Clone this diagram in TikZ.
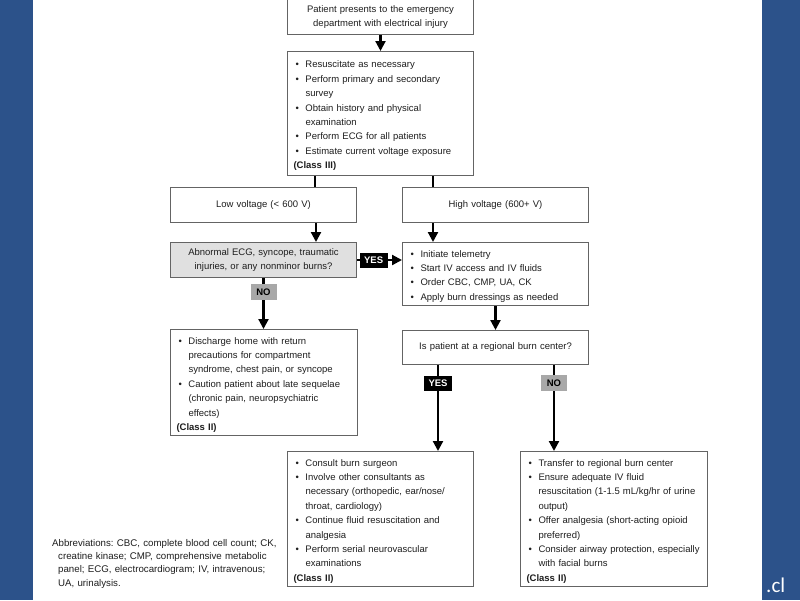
\documentclass[tikz,border=0pt]{standalone}
\usepackage{fontspec}
\setmainfont{Liberation Sans}
\newfontfamily\clfont{Carlito}
\usetikzlibrary{arrows.meta,calc}
\definecolor{bgblue}{RGB}{44,82,138}
\definecolor{boxgray}{RGB}{100,100,100}
\definecolor{abnfill}{RGB}{224,224,224}
\definecolor{nofill}{RGB}{168,168,168}
\definecolor{txtgray}{RGB}{30,30,30}
\newcommand{\bit}[1]{\par\noindent\hangindent=13pt\hangafter=1\makebox[13pt][l]{\hspace{3pt}\textbullet}#1}
\newcommand{\clsline}[1]{\par\noindent\hspace{1pt}\textbf{#1}\par\vspace*{3pt}}
\newcommand{\bitend}{\par\vspace*{3pt}}
\begin{document}
\frenchspacing
\begin{tikzpicture}[x=1pt,y=-1pt,
  flow/.style={draw=boxgray,line width=1pt,fill=white,inner xsep=5pt,inner ysep=0pt,
    text=txtgray,font=\fontsize{9.5}{14.4}\selectfont,anchor=north west},
  conn/.style={line width=2.2pt,-{Triangle[length=10pt,width=10pt]}},
  plainconn/.style={line width=2.2pt},
  yeslab/.style={fill=black,text=white,font=\bfseries\fontsize{9.5}{10}\selectfont,
    inner sep=0pt,minimum width=28pt,minimum height=15pt},
  nolab/.style={fill=nofill,text=black,font=\bfseries\fontsize{9.5}{10}\selectfont,
    inner sep=0pt,minimum width=26pt,minimum height=16pt}]
\useasboundingbox (0,0) rectangle (800,600);
\fill[bgblue] (0,0) rectangle (800,600);
\fill[white] (33,0) rectangle (762,600);

\node[flow,align=center,text width=176pt,minimum width=186pt,minimum height=35pt] (b1) at (287,-1)
  {Patient presents to the emergency\\department with electrical injury};

\node[flow,align=left,text width=176pt,minimum width=186pt,minimum height=124pt] (b2) at (287,51)
  {\bit{Resuscitate as necessary}\bit{Perform primary and secondary\newline survey}%
   \bit{Obtain history and physical\newline examination}\bit{Perform ECG for all patients}%
   \bit{Estimate current voltage exposure}\clsline{(Class III)}};

\node[flow,align=center,text width=176pt,minimum width=186pt,minimum height=35pt] (low) at (170,187)
  {Low voltage (< 600 V)};
\node[flow,align=center,text width=176pt,minimum width=186pt,minimum height=35pt] (high) at (402,187)
  {High voltage (600+ V)};

\node[flow,fill=abnfill,align=center,text width=176pt,minimum width=186pt,minimum height=35pt] (abn) at (170,242)
  {Abnormal ECG, syncope, traumatic\\injuries, or any nonminor burns?};

\node[flow,align=left,text width=176pt,minimum width=186pt,minimum height=63pt] (tele) at (402,242)
  {\bit{Initiate telemetry}\bit{Start IV access and IV fluids}\bit{Order CBC, CMP, UA, CK}%
   \bit{Apply burn dressings as needed}\bitend};

\node[flow,align=left,text width=177pt,minimum width=187pt,minimum height=106pt] (dis) at (170,329)
  {\bit{Discharge home with return\newline precautions for compartment\newline syndrome, chest pain, or syncope}%
   \bit{Caution patient about late sequelae\newline (chronic pain, neuropsychiatric\newline effects)}\clsline{(Class II)}};

\node[flow,align=center,text width=176pt,minimum width=186pt,minimum height=34pt] (isp) at (402,330)
  {Is patient at a regional burn center?};

\node[flow,align=left,text width=176pt,minimum width=186pt,minimum height=135pt] (cons) at (287,451)
  {\bit{Consult burn surgeon}\bit{Involve other consultants as\newline necessary (orthopedic, ear/nose/\newline throat, cardiology)}%
   \bit{Continue fluid resuscitation and\newline analgesia}\bit{Perform serial neurovascular\newline examinations}\clsline{(Class II)}};

\node[flow,align=left,text width=177pt,minimum width=187pt,minimum height=135pt] (trans) at (520,451)
  {\bit{Transfer to regional burn center}\bit{Ensure adequate IV fluid\newline resuscitation (1-1.5 mL/kg/hr of urine\newline output)}%
   \bit{Offer analgesia (short-acting opioid\newline preferred)}\bit{Consider airway protection, especially\newline with facial burns}\clsline{(Class II)}};

\node[anchor=north west,align=left,text width=250pt,inner sep=0pt,text=txtgray,
  font=\fontsize{9.7}{13.2}\selectfont] (abbr) at (52,533)
  {\par\noindent\hangindent=6pt\hangafter=1 Abbreviations: CBC, complete blood cell count; CK,\newline creatine kinase; CMP, comprehensive metabolic\newline panel; ECG, electrocardiogram; IV, intravenous;\newline UA, urinalysis.\par};

\node[anchor=west,inner sep=0pt,text=white,font=\clfont\fontsize{21}{21}\selectfont] (cl) at (766,585) {.cl};

% connectors
\draw[conn] (b1.south) -- (b2.north);
\draw[plainconn] ([xshift=28pt]b2.south west) -- ([xshift=28pt]b2.south west |- low.north);
\draw[plainconn] ([xshift=146pt]b2.south west) -- ([xshift=146pt]b2.south west |- high.north);
\draw[conn] ([xshift=146pt]low.south west) -- ([xshift=146pt]low.south west |- abn.north);
\draw[conn] ([xshift=31pt]high.south west) -- ([xshift=31pt]high.south west |- tele.north);
\draw[conn] (abn.east) -- (abn.east -| tele.west) node[yeslab,pos=0.37] (yes1) {YES};
\draw[conn] (abn.south) -- (abn.south |- dis.north) node[nolab,pos=0.27] (no1) {NO};
\draw[conn] (tele.south) -- (tele.south |- isp.north);
\draw[conn] ([xshift=36pt]isp.south west) -- ([xshift=36pt]isp.south west |- cons.north) node[yeslab,pos=0.21] (yes2) {YES};
\draw[conn] ([xshift=152pt]isp.south west) -- ([xshift=152pt]isp.south west |- trans.north) node[nolab,pos=0.21] (no2) {NO};
\end{tikzpicture}
\end{document}
